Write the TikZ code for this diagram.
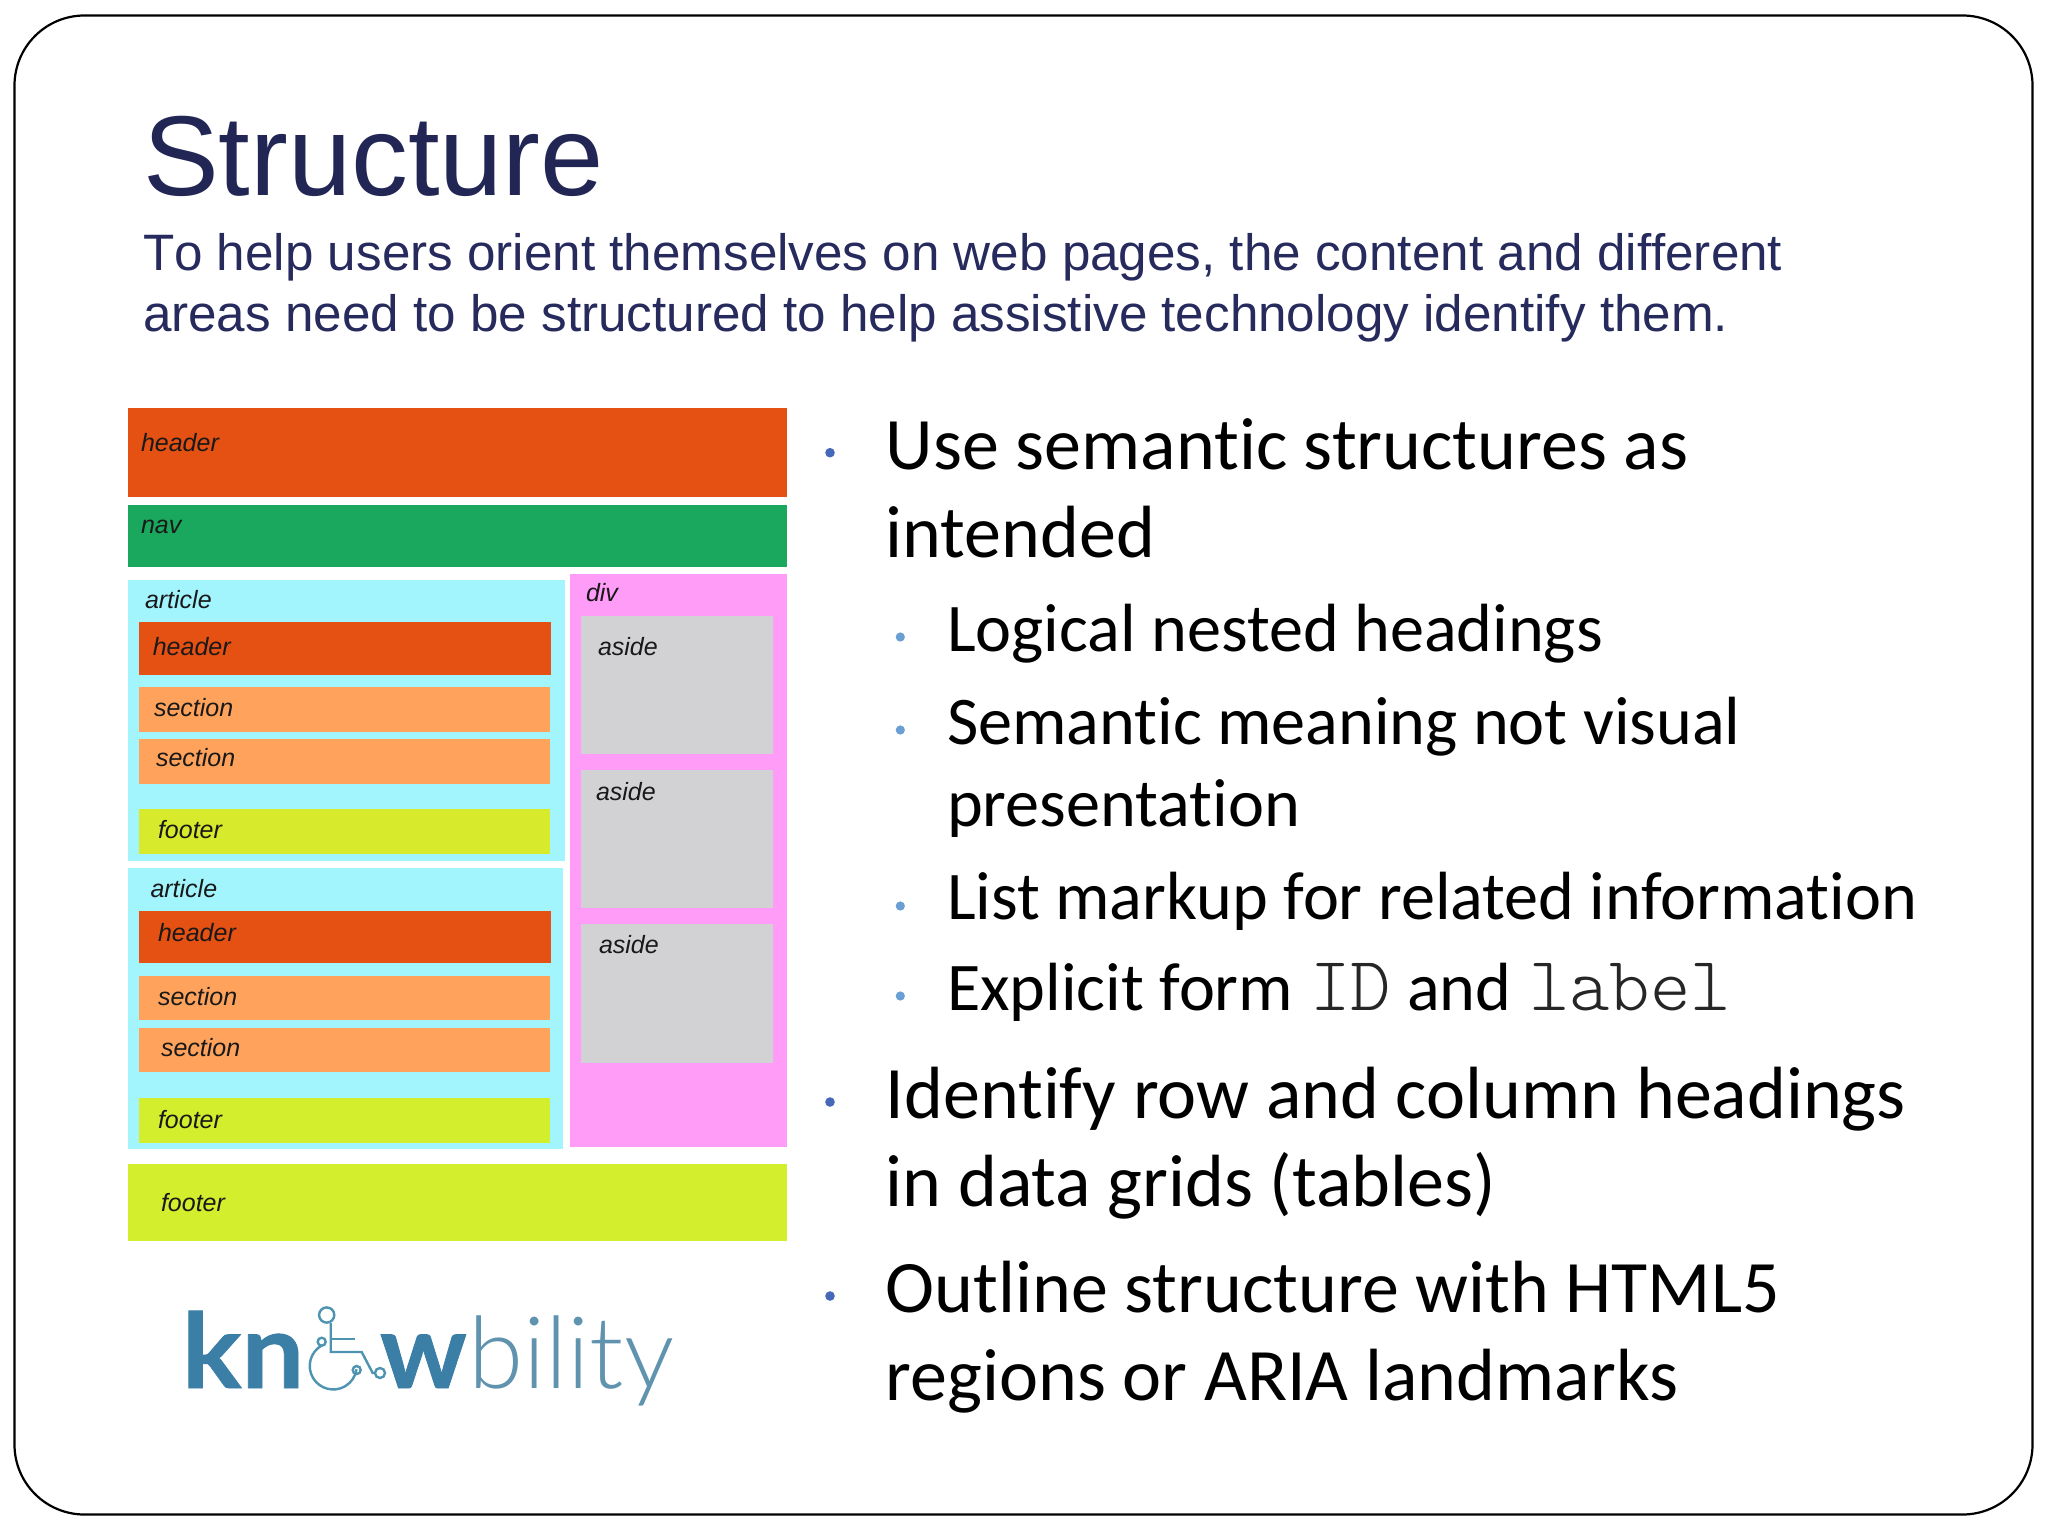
\documentclass[tikz,border=0pt]{standalone}
\usepackage{fontspec}
\setmainfont{Carlito}[Ligatures=NoCommon]
\newfontfamily\arial{Liberation Sans}[Kerning=Off]
\newfontfamily\monof{Latin Modern Mono Light}
\newfontfamily\logob{Lato}[FakeStretch=1.07,FakeBold=0.8]
\newfontfamily\logow{Lato}[FakeStretch=1.04,FakeBold=0.8]
\newfontfamily\logol{Lato Light}
\definecolor{titleblue}{HTML}{222655}
\definecolor{subblue}{HTML}{262A5C}
\definecolor{hdr}{HTML}{E55013}
\definecolor{navg}{HTML}{1AA85F}
\definecolor{art}{HTML}{A2F5FD}
\definecolor{dv}{HTML}{FF9CF7}
\definecolor{asd}{HTML}{D2D1D4}
\definecolor{sec}{HTML}{FFA35C}
\definecolor{ftri}{HTML}{D7EA2B}
\definecolor{ftr}{HTML}{D2EE2D}
\definecolor{bula}{HTML}{4668B8}
\definecolor{bulb}{HTML}{6A9FD4}
\definecolor{logoa}{HTML}{3B7EA6}
\definecolor{logowh}{HTML}{4E94B0}
\definecolor{logoc}{HTML}{5F93AE}
\newcommand{\fsz}[1]{\fontsize{#1}{#1}\selectfont}
\tikzset{
  txt/.style={inner sep=0pt,outer sep=0pt,anchor=base west},
  lbl/.style={txt,font=\arial\itshape\fsz{12.5},text=black!90},
  mainb/.style={txt,font=\fsz{37},text=black},
  subb/.style={txt,font=\fsz{34.1},text=black},
  monot/.style={txt,font=\monof\fsz{38.5},text=black!85},
  titlet/.style={txt,font=\arial\fsz{56.8},text=titleblue},
  subt/.style={txt,font=\arial\fsz{25.6},text=subblue},
  wheel/.style={draw=logowh,line width=1.2pt},
}
\newcommand{\rct}[5]{\fill[#1] (#2,#3) rectangle (#4,#5);}
\newcommand{\bla}[2]{\fill[bula] (#1,#2) circle[radius=2.4pt];}
\newcommand{\blb}[2]{\fill[bulb] (#1,#2) circle[radius=2.3pt];}
\begin{document}
\begin{tikzpicture}[x=0.5pt,y=-0.5pt]
\useasboundingbox (0,0) rectangle (2048,1536);
\fill[white] (0,0) rectangle (2048,1536);
\draw[black,line width=1.1pt,rounded corners=35pt] (14.5,15.5) rectangle (2032.5,1514.5);
% title
\node[titlet] (title) at (143,195) {Structure};
\node[subt] (sub1) at (143,270) {To help users orient themselves on web pages, the content and different};
\node[subt] (sub2) at (143,331) {areas need to be structured to help assistive technology identify them.};
% blocks
\rct{hdr}{127.5}{408.3}{786.5}{496.7}
\rct{navg}{127.5}{505}{786.5}{566.7}
\rct{art}{127.5}{579.7}{564.7}{860.7}
\rct{art}{127.5}{868}{562.8}{1149}
\rct{dv}{570}{573.7}{786.5}{1147}
\rct{hdr}{138.6}{622.3}{551}{675}
\rct{sec}{139}{687.3}{550.4}{732}
\rct{sec}{139}{739}{550.4}{784}
\rct{ftri}{139}{809}{550.4}{854}
\rct{hdr}{138.6}{911}{551}{963.4}
\rct{sec}{139}{976}{550.4}{1020}
\rct{sec}{139}{1028}{550.4}{1072}
\rct{ftr}{139}{1098}{550.4}{1143}
\rct{asd}{581}{616}{772.6}{754}
\rct{asd}{581}{770}{772.6}{908}
\rct{asd}{581}{924.3}{772.6}{1062.6}
\rct{ftr}{127.5}{1164}{786.5}{1241}
% labels
\node[lbl] (lheader) at (141,451.7) {header};
\node[lbl] (lnav) at (141,533) {nav};
\node[lbl] (larta) at (145,608) {article};
\node[lbl] (ldiv) at (586,601.7) {div};
\node[lbl] (lhdra) at (152.8,655) {header};
\node[lbl] (lseca) at (154,716.7) {section};
\node[lbl] (lsecb) at (156,766) {section};
\node[lbl] (lftra) at (158,838) {footer};
\node[lbl] (lasa) at (598,655) {aside};
\node[lbl] (lasb) at (596,800.7) {aside};
\node[lbl] (lartb) at (150.5,897) {article};
\node[lbl] (lhdrb) at (158,941) {header};
\node[lbl] (lsecc) at (158,1005.5) {section};
\node[lbl] (lsecd) at (161,1056) {section};
\node[lbl] (lftrb) at (158,1128.5) {footer};
\node[lbl] (lasc) at (599,953.4) {aside};
\node[lbl] (lftrc) at (161,1211) {footer};
% logo
\node[txt,font=\logob\bfseries\fsz{52},text=logoa] (lkn) at (182,1388) {kn};
\node[txt,font=\logow\bfseries\fsz{52},text=logoa] (lw) at (380,1388) {w};
\node[txt,font=\logol\fsz{50},text=logoc] (lbi) at (468,1388) {bility};
\draw[wheel] (326.7,1315) circle[radius=3.8pt];
\draw[wheel] (330.7,1323) -- (330.7,1352) -- (361.7,1352) -- (372.7,1373) -- (375,1373);
\draw[wheel] (331,1339) -- (355,1339);
\draw[wheel] (321.7,1341.7) circle[radius=2pt];
\draw[wheel] (380,1373) circle[radius=2.5pt];
\draw[wheel] (356.7,1370) circle[radius=2pt];
\draw[wheel] (321.5,1345.6) arc[start angle=120,end angle=352,radius=11.75pt];
% right column
\bla{830}{452.7}
\node[mainb] (m1a) at (885.7,469.2) {Use semantic structures as};
\node[mainb] (m1b) at (885.7,557.5) {intended};
\blb{900.3}{637}
\node[subb] (s1) at (947,651.5) {Logical nested headings};
\blb{900.3}{730}
\node[subb] (s2a) at (947,744) {Semantic meaning not visual};
\node[subb] (s2b) at (947,826) {presentation};
\blb{900.3}{906}
\node[subb] (s3) at (947,919.5) {List markup for related information};
\blb{900.3}{996}
\node[subb] (s4) at (947,1010) {Explicit form};
\node[monot] (s4b) at (1310,1010) {ID};
\node[subb] (s4c) at (1407,1010) {and};
\node[monot] (s4d) at (1529,1010) {label};
\bla{830}{1102}
\node[mainb] (m2a) at (885.7,1118.5) {Identify row and column headings};
\node[mainb] (m2b) at (885.7,1206.5) {in data grids (tables)};
\bla{830}{1296}
\node[mainb] (m3a) at (885.7,1312) {Outline structure with HTML5};
\node[mainb] (m3b) at (885.7,1400) {regions or ARIA landmarks};
\end{tikzpicture}
\end{document}
